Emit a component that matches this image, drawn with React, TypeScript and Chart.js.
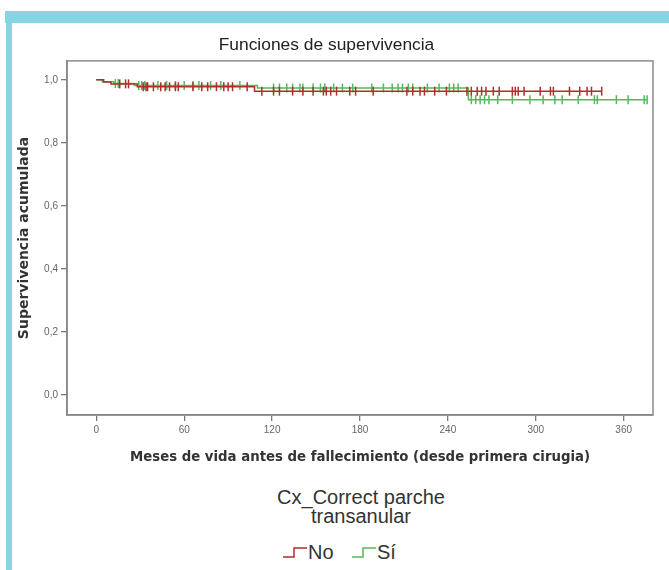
import React, { useEffect, useRef } from 'react';
import { Chart, registerables } from 'chart.js';

Chart.register(...registerables);

// ---- Data ----
const xTickValues = [0, 60, 120, 180, 240, 300, 360];
const yTickValues = [0, 0.2, 0.4, 0.6, 0.8, 1.0];

// Group "No" (red)
const noEventMonths = [0, 5, 10, 28, 108];
const noEventSurvival = [1.0, 0.993, 0.987, 0.978, 0.964];
const noCensorMonths = [
  16, 20, 22, 32, 34, 35, 39, 44, 47, 50, 54, 56, 66, 72, 76, 82, 87, 90, 93, 103,
  113, 121, 125, 134, 141, 148, 155, 157, 160, 164, 173, 177, 189, 212, 216, 221,
  224, 231, 239, 253, 256, 260, 263, 266, 271, 275, 284, 286, 288, 292, 303, 310,
  312, 323, 330, 335, 338, 345,
];

// Group "Sí" (green)
const siEventMonths = [0, 4, 12, 26, 110, 254];
const siEventSurvival = [1.0, 0.994, 0.988, 0.982, 0.974, 0.937];
const siCensorMonths = [
  13, 15, 29, 31, 33, 42, 48, 54, 60, 66, 70, 78, 85, 98, 121, 125, 130, 134, 139,
  141, 148, 153, 156, 162, 168, 175, 188, 196, 202, 206, 209, 213, 216, 226, 234,
  241, 244, 247, 256, 259, 262, 265, 268, 274, 284, 296, 305, 313, 318, 329, 340,
  342, 355, 363, 374, 376,
];

const RED = '#b02e2e';
const GREEN = '#55b85d';
const TEAL = 'rgb(135, 212, 226)';

type Pt = { x: number; y: number; censored: boolean };

function buildCurve(eventMonths: number[], eventSurv: number[], censorMonths: number[]): Pt[] {
  const pts: Pt[] = [];
  eventMonths.forEach((m, i) => pts.push({ x: m, y: eventSurv[i], censored: false }));
  censorMonths.forEach((m) => {
    let s = 1;
    eventMonths.forEach((em, i) => {
      if (em <= m) s = eventSurv[i];
    });
    pts.push({ x: m, y: s, censored: true });
  });
  pts.sort((a, b) => a.x - b.x || (a.censored ? 1 : 0) - (b.censored ? 1 : 0));
  return pts;
}

const framePlugin = {
  id: 'frame',
  beforeDatasetsDraw(chart: any) {
    const { ctx, chartArea: a } = chart;
    ctx.save();
    ctx.strokeStyle = '#8c8c8c';
    ctx.lineWidth = 1.5;
    ctx.strokeRect(a.left, a.top, a.right - a.left, a.bottom - a.top);
    ctx.restore();
  },
};

function StepIcon({ color }: { color: string }) {
  return (
    <svg width="24" height="14" style={{ display: 'block' }}>
      <polyline points="0,12 11,12 11,3 24,3" fill="none" stroke={color} strokeWidth="1.5" />
    </svg>
  );
}

export default function App() {
  const ref = useRef<HTMLCanvasElement | null>(null);

  useEffect(() => {
    if (!ref.current) return;
    const noPts = buildCurve(noEventMonths, noEventSurvival, noCensorMonths);
    const siPts = buildCurve(siEventMonths, siEventSurvival, siCensorMonths);

    const mkDataset = (label: string, pts: Pt[], color: string) => ({
      label,
      data: pts.map((p) => ({ x: p.x, y: p.y })),
      stepped: 'before' as const,
      borderColor: color,
      borderWidth: 1.5,
      fill: false,
      pointStyle: 'line' as const,
      pointRotation: 90,
      pointRadius: pts.map((p) => (p.censored ? 4.5 : 0)),
      pointHoverRadius: 0,
      pointBorderColor: color,
      pointBackgroundColor: color,
      pointBorderWidth: 1.5,
      tension: 0,
    });

    const chart = new Chart(ref.current, {
      type: 'line',
      data: {
        datasets: [mkDataset('No', noPts, RED), mkDataset('Sí', siPts, GREEN)],
      },
      options: {
        responsive: false,
        animation: false,
        devicePixelRatio: 1,
        layout: { padding: { left: 0, right: 16, top: 0, bottom: 0 } },
        plugins: {
          legend: { display: false },
          tooltip: { enabled: false },
          title: {
            display: true,
            text: 'Funciones de supervivencia',
            color: '#222',
            font: { family: "'Liberation Sans', Arial, sans-serif", size: 17.4, weight: 'normal' },
            padding: { top: 35, bottom: 5 },
          },
        },
        scales: {
          x: {
            type: 'linear',
            min: -20,
            max: 380,
            afterBuildTicks: (s: any) => {
              s.ticks = xTickValues.map((v) => ({ value: v }));
            },
            afterFit: (s: any) => {
              s.height = 55;
            },
            grid: { drawOnChartArea: false, drawTicks: true, tickLength: 6, color: '#7a7a7a', lineWidth: 1.3 },
            border: { display: true, color: '#7a7a7a', width: 1.6 },
            ticks: {
              padding: 3,
              color: '#666',
              autoSkip: false,
              maxRotation: 0,
              font: { family: "'Liberation Sans', Arial, sans-serif", size: 10 },
              callback: (v: any) => String(v),
            },
            title: {
              display: true,
              text: 'Meses de vida antes de fallecimiento (desde primera cirugia)',
              color: '#333',
              font: { family: "'DejaVu Sans', Verdana, sans-serif", size: 13.3, weight: 'bold' },
              padding: { top: 0, bottom: 4 },
            },
          },
          y: {
            type: 'linear',
            min: -0.063,
            max: 1.06,
            afterBuildTicks: (s: any) => {
              s.ticks = yTickValues.map((v) => ({ value: v }));
            },
            afterFit: (s: any) => {
              s.width = 67;
            },
            grid: { drawOnChartArea: false, drawTicks: true, tickLength: 6, color: '#7a7a7a', lineWidth: 1.3 },
            border: { display: true, color: '#7a7a7a', width: 1.6 },
            ticks: {
              padding: 3,
              color: '#666',
              font: { family: "'Liberation Sans', Arial, sans-serif", size: 10 },
              callback: (v: any) => Number(v).toFixed(1).replace('.', ','),
            },
            title: {
              display: true,
              text: 'Supervivencia acumulada',
              color: '#333',
              font: { family: "'DejaVu Sans', Verdana, sans-serif", size: 14, weight: 'bold' },
              padding: { top: 16, bottom: 0 },
            },
          },
        },
      },
      plugins: [framePlugin],
    } as any);

    return () => chart.destroy();
  }, []);

  return (
    <div
      style={{
        position: 'absolute',
        left: 0,
        top: 0,
        width: 669,
        height: 570,
        background: '#fff',
        overflow: 'hidden',
        fontFamily: "'Liberation Sans', Arial, sans-serif",
      }}
    >
      <canvas ref={ref} width={669} height={470} style={{ position: 'absolute', left: 0, top: 0 }} />
      {/* frame band */}
      <div style={{ position: 'absolute', left: 5, top: 11, width: 664, height: 12, background: TEAL }} />
      <div style={{ position: 'absolute', left: 6, top: 11, width: 6, height: 559, background: TEAL }} />
      {/* legend */}
      <div
        style={{
          position: 'absolute',
          left: 241,
          top: 488,
          width: 240,
          textAlign: 'center',
          fontSize: 20,
          lineHeight: '19px',
          color: '#333',
        }}
      >
        Cx_Correct parche
        <br />
        transanular
      </div>
      <div style={{ position: 'absolute', left: 283, top: 541, display: 'flex', alignItems: 'center', height: 22 }}>
        <StepIcon color={RED} />
        <span style={{ fontSize: 20, color: '#333', marginLeft: 1 }}>No</span>
      </div>
      <div style={{ position: 'absolute', left: 352, top: 541, display: 'flex', alignItems: 'center', height: 22 }}>
        <StepIcon color={GREEN} />
        <span style={{ fontSize: 20, color: '#333', marginLeft: 1 }}>Sí</span>
      </div>
    </div>
  );
}
